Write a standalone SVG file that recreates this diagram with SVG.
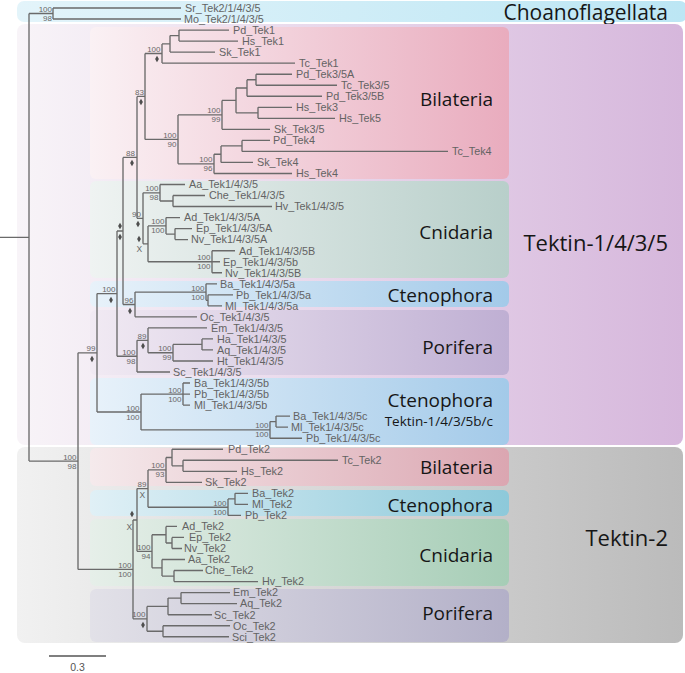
<svg xmlns="http://www.w3.org/2000/svg" xmlns:xlink="http://www.w3.org/1999/xlink" width="685" height="673" viewBox="0 0 685 673">
<style>
.lf{font-family:"Liberation Sans",Arial,sans-serif;font-size:10.8px;fill:#636363}
.bs{font-family:"Liberation Sans",Arial,sans-serif;font-size:8px;fill:#686868;text-anchor:end}
.bx{font-family:"Liberation Sans",Arial,sans-serif;font-size:8.5px;fill:#686868;text-anchor:middle}
.cl{font-family:"Open Sans","Noto Sans",sans-serif;font-size:19px;fill:#161616;text-anchor:end}
.big{font-family:"Open Sans","Noto Sans",sans-serif;font-size:22px;fill:#161616;text-anchor:end}
.br{fill:none;stroke:#6a6a6a;stroke-width:1.35}
.dm{fill:#4e4e4e}
</style>
<defs>
<linearGradient id="gCh" x1="0" x2="1" y1="0" y2="0"><stop offset="0" stop-color="#e3f4fa"/><stop offset="1" stop-color="#bce6f4"/></linearGradient>
<linearGradient id="gT1" x1="0" x2="1" y1="0" y2="0"><stop offset="0" stop-color="#f8f4f8"/><stop offset="1" stop-color="#d6b7dc"/></linearGradient>
<linearGradient id="gT2" x1="0" x2="1" y1="0" y2="0"><stop offset="0" stop-color="#f1f1f1"/><stop offset="1" stop-color="#bbbbbb"/></linearGradient>
<linearGradient id="gBi" x1="0" x2="1" y1="0" y2="0"><stop offset="0" stop-color="#faf1f4"/><stop offset="1" stop-color="#e9acbe"/></linearGradient>
<linearGradient id="gCn" x1="0" x2="1" y1="0" y2="0"><stop offset="0" stop-color="#eff3f2"/><stop offset="1" stop-color="#b8cfca"/></linearGradient>
<linearGradient id="gCt" x1="0" x2="1" y1="0" y2="0"><stop offset="0" stop-color="#e8f2fa"/><stop offset="1" stop-color="#a3cae9"/></linearGradient>
<linearGradient id="gPo" x1="0" x2="1" y1="0" y2="0"><stop offset="0" stop-color="#f1eaf3"/><stop offset="1" stop-color="#bfafd3"/></linearGradient>
<linearGradient id="gBi2" x1="0" x2="1" y1="0" y2="0"><stop offset="0" stop-color="#f5eaec"/><stop offset="1" stop-color="#dba6b1"/></linearGradient>
<linearGradient id="gCt2" x1="0" x2="1" y1="0" y2="0"><stop offset="0" stop-color="#e0f0f6"/><stop offset="1" stop-color="#8dc9da"/></linearGradient>
<linearGradient id="gCn2" x1="0" x2="1" y1="0" y2="0"><stop offset="0" stop-color="#e6efe9"/><stop offset="1" stop-color="#a6cdb6"/></linearGradient>
<linearGradient id="gPo2" x1="0" x2="1" y1="0" y2="0"><stop offset="0" stop-color="#e2e1e8"/><stop offset="1" stop-color="#b3b0c8"/></linearGradient>
<path id="dia" d="M0,-3.3 L1.9,0 L0,3.3 L-1.9,0 Z"/>
</defs>
<rect width="685" height="673" fill="#ffffff"/>

<g id="clade-choanoflagellata"><rect x="17" y="1" width="670" height="21" rx="7" fill="url(#gCh)"/><text class="big" x="668" y="19.5" style="font-size:21px">Choanoflagellata</text></g>
<g id="clade-tektin-1435"><rect x="17" y="24" width="666" height="421" rx="8" fill="url(#gT1)"/><text class="big" x="668" y="251">Tektin-1/4/3/5</text></g>
<g id="clade-tektin-2"><rect x="17" y="447" width="666" height="196" rx="8" fill="url(#gT2)"/><text class="big" x="668" y="546">Tektin-2</text></g>

<g id="box-t1-bilateria"><rect x="90" y="27" width="419" height="152" rx="6" fill="url(#gBi)"/><text class="cl" x="493" y="106">Bilateria</text></g>
<g id="box-t1-cnidaria"><rect x="90" y="181" width="419" height="97" rx="6" fill="url(#gCn)"/><text class="cl" x="493" y="239">Cnidaria</text></g>
<g id="box-t1-ctenophora-a"><rect x="90" y="281" width="419" height="26" rx="6" fill="url(#gCt)"/><text class="cl" x="493" y="302">Ctenophora</text></g>
<g id="box-t1-porifera"><rect x="90" y="310" width="419" height="65" rx="6" fill="url(#gPo)"/><text class="cl" x="493" y="354">Porifera</text></g>
<g id="box-t1-ctenophora-bc"><rect x="90" y="378" width="419" height="67" rx="6" fill="url(#gCt)"/><text class="cl" x="493" y="406.5">Ctenophora</text><text class="cl" x="493" y="426" style="font-size:13.5px">Tektin-1/4/3/5b/c</text></g>
<g id="box-t2-bilateria"><rect x="90" y="448" width="419" height="38" rx="6" fill="url(#gBi2)"/><text class="cl" x="493" y="474">Bilateria</text></g>
<g id="box-t2-ctenophora"><rect x="90" y="490" width="419" height="26" rx="6" fill="url(#gCt2)"/><text class="cl" x="493" y="512">Ctenophora</text></g>
<g id="box-t2-cnidaria"><rect x="90" y="519" width="419" height="67" rx="6" fill="url(#gCn2)"/><text class="cl" x="493" y="562">Cnidaria</text></g>
<g id="box-t2-porifera"><rect x="90" y="589" width="419" height="53" rx="6" fill="url(#gPo2)"/><text class="cl" x="493" y="620">Porifera</text></g>

<g id="connectors" class="br">
<path d="M0,237.3 H29 M29,13.5 V461.1 M29,13.5 H53 M29,461.1 H78"/>
<path d="M53,8 V19 M53,8 H181 M53,19 H181"/>
<path d="M78,352.8 V569.4 M78,352.8 H97 M78,569.4 H133"/>
<path d="M97,293.6 V412 M97,293.6 H117 M97,412 H141"/>
<path d="M117,231 V356.2 M117,231 H123 M117,356.2 H137"/>
<path d="M123,157.4 V304.5 M123,157.4 H137 M123,304.5 H135"/>
<path d="M137,96.4 V218.3 M137,96.4 H145 M137,218.3 H143"/>
<path d="M145,53.5 V139.4 M145,53.5 H162 M145,139.4 H178"/>
<path d="M162,43.9 V63.1 M162,43.9 H170 M162,63.1 H295"/>
<path d="M170,35.6 V52.1 M170,35.6 H179 M170,52.1 H215"/>
<path d="M179,30.1 V41.1 M179,30.1 H229 M179,41.1 H238"/>
<path d="M178,114.9 V163.8 M178,114.9 H222 M178,163.8 H214"/>
<path d="M222,100.4 V129.3 M222,100.4 H236 M222,129.3 H270"/>
<path d="M236,88 V112.8 M236,88 H247 M236,112.8 H258"/>
<path d="M247,79.7 V96.2 M247,79.7 H256 M247,96.2 H322"/>
<path d="M256,74.2 V85.2 M256,74.2 H292 M256,85.2 H337"/>
<path d="M258,107.3 V118.3 M258,107.3 H292 M258,118.3 H335"/>
<path d="M214,154.2 V173.5 M214,154.2 H221 M214,173.5 H292"/>
<path d="M221,145.9 V162.4 M221,145.9 H242 M221,162.4 H253"/>
<path d="M242,140.4 V151.4 M242,140.4 H270 M242,151.4 H448"/>
<path d="M143,192.8 V243.8 M143,192.8 H160 M143,243.8 H148"/>
<path d="M160,184.5 V201 M160,184.5 H185 M160,201 H173"/>
<path d="M173,195.5 V206.5 M173,195.5 H205 M173,206.5 H272"/>
<path d="M148,225.9 V261.7 M148,225.9 H166 M148,261.7 H212"/>
<path d="M166,217.6 V234.1 M166,217.6 H180 M166,234.1 H175"/>
<path d="M175,228.6 V239.6 M175,228.6 H192 M175,239.6 H188"/>
<path d="M212,250.7 V272.7 M212,250.7 H235 M212,261.7 H220 M212,272.7 H222"/>
<path d="M135,292.1 V316.8 M135,292.1 H206 M135,316.8 H197"/>
<path d="M206,283.8 V300.3 M206,283.8 H217 M206,300.3 H208"/>
<path d="M208,294.8 V305.8 M208,294.8 H233 M208,305.8 H222"/>
<path d="M137,340.3 V372 M137,340.3 H148 M137,372 H170"/>
<path d="M148,327.9 V352.7 M148,327.9 H207 M148,352.7 H173"/>
<path d="M173,344.4 V361 M173,344.4 H202 M173,361 H213"/>
<path d="M202,338.9 V349.9 M202,338.9 H213 M202,349.9 H213"/>
<path d="M141,394.1 V429.9 M141,394.1 H183 M141,429.9 H270"/>
<path d="M183,383 V405.1 M183,383 H190 M183,394.1 H190 M183,405.1 H190"/>
<path d="M270,421.6 V438.2 M270,421.6 H276 M270,438.2 H302"/>
<path d="M276,416.1 V427.1 M276,416.1 H290 M276,427.1 H288"/>
<path d="M133,520 V618.8 M133,520 H137 M133,618.8 H147"/>
<path d="M137,488.6 V551.3 M137,488.6 H148 M137,551.3 H152"/>
<path d="M148,469.9 V507.2 M148,469.9 H166 M148,507.2 H228"/>
<path d="M166,457.5 V482.3 M166,457.5 H172 M166,482.3 H202"/>
<path d="M172,449.2 V465.8 M172,449.2 H223 M172,465.8 H183"/>
<path d="M183,460.2 V471.3 M183,460.2 H338 M183,471.3 H237"/>
<path d="M228,498.9 V515.4 M228,498.9 H235 M228,515.4 H241"/>
<path d="M235,493.3 V504.4 M235,493.3 H248 M235,504.4 H248"/>
<path d="M152,534.7 V567.8 M152,534.7 H166 M152,567.8 H162"/>
<path d="M166,526.4 V543 M166,526.4 H177 M166,543 H172"/>
<path d="M172,537.4 V548.5 M172,537.4 H184 M172,548.5 H182"/>
<path d="M162,559.5 V576.1 M162,559.5 H185 M162,576.1 H174"/>
<path d="M174,570.5 V581.6 M174,570.5 H203 M174,581.6 H258"/>
<path d="M147,606.4 V631.2 M147,606.4 H168 M147,631.2 H163"/>
<path d="M168,598.1 V614.7 M168,598.1 H181 M168,614.7 H212"/>
<path d="M181,592.6 V603.6 M181,592.6 H230 M181,603.6 H237"/>
<path d="M163,625.7 V636.7 M163,625.7 H230 M163,636.7 H229"/>
</g>

<g id="leaves" class="lf">
<g id="leaf-sr-tek2"><text x="185" y="11.8">Sr_Tek2/1/4/3/5</text></g>
<g id="leaf-mo-tek2"><text x="184" y="22.8">Mo_Tek2/1/4/3/5</text></g>
<g id="leaf-pd-tek1"><text x="233" y="33.9">Pd_Tek1</text></g>
<g id="leaf-hs-tek1"><text x="242" y="44.9">Hs_Tek1</text></g>
<g id="leaf-sk-tek1"><text x="219" y="55.9">Sk_Tek1</text></g>
<g id="leaf-tc-tek1"><text x="299" y="66.9">Tc_Tek1</text></g>
<g id="leaf-pd-tek35a"><text x="296" y="78">Pd_Tek3/5A</text></g>
<g id="leaf-tc-tek35"><text x="341" y="89">Tc_Tek3/5</text></g>
<g id="leaf-pd-tek35b"><text x="326" y="100">Pd_Tek3/5B</text></g>
<g id="leaf-hs-tek3"><text x="296" y="111.1">Hs_Tek3</text></g>
<g id="leaf-hs-tek5"><text x="339" y="122.1">Hs_Tek5</text></g>
<g id="leaf-sk-tek35"><text x="274" y="133.1">Sk_Tek3/5</text></g>
<g id="leaf-pd-tek4"><text x="273" y="144.2">Pd_Tek4</text></g>
<g id="leaf-tc-tek4"><text x="452" y="155.2">Tc_Tek4</text></g>
<g id="leaf-sk-tek4"><text x="257" y="166.2">Sk_Tek4</text></g>
<g id="leaf-hs-tek4"><text x="296" y="177.3">Hs_Tek4</text></g>
<g id="leaf-aa-tek1"><text x="189" y="188.3">Aa_Tek1/4/3/5</text></g>
<g id="leaf-che-tek1"><text x="209" y="199.3">Che_Tek1/4/3/5</text></g>
<g id="leaf-hv-tek1"><text x="275" y="210.3">Hv_Tek1/4/3/5</text></g>
<g id="leaf-ad-tek1a"><text x="184" y="221.4">Ad_Tek1/4/3/5A</text></g>
<g id="leaf-ep-tek1a"><text x="196" y="232.4">Ep_Tek1/4/3/5A</text></g>
<g id="leaf-nv-tek1a"><text x="191" y="243.4">Nv_Tek1/4/3/5A</text></g>
<g id="leaf-ad-tek1b"><text x="239" y="254.5">Ad_Tek1/4/3/5B</text></g>
<g id="leaf-ep-tek1b"><text x="223" y="265.5">Ep_Tek1/4/3/5b</text></g>
<g id="leaf-nv-tek1b"><text x="225" y="276.5">Nv_Tek1/4/3/5B</text></g>
<g id="leaf-ba-tek1a"><text x="220" y="287.6">Ba_Tek1/4/3/5a</text></g>
<g id="leaf-pb-tek1a"><text x="236" y="298.6">Pb_Tek1/4/3/5a</text></g>
<g id="leaf-ml-tek1a"><text x="225" y="309.6">Ml_Tek1/4/3/5a</text></g>
<g id="leaf-oc-tek1"><text x="200" y="320.6">Oc_Tek1/4/3/5</text></g>
<g id="leaf-em-tek1"><text x="211" y="331.7">Em_Tek1/4/3/5</text></g>
<g id="leaf-ha-tek1"><text x="217" y="342.7">Ha_Tek1/4/3/5</text></g>
<g id="leaf-aq-tek1"><text x="217" y="353.7">Aq_Tek1/4/3/5</text></g>
<g id="leaf-ht-tek1"><text x="217" y="364.8">Ht_Tek1/4/3/5</text></g>
<g id="leaf-sc-tek1"><text x="173" y="375.8">Sc_Tek1/4/3/5</text></g>
<g id="leaf-ba-tek1b"><text x="194" y="386.8">Ba_Tek1/4/3/5b</text></g>
<g id="leaf-pb-tek1b"><text x="194" y="397.9">Pb_Tek1/4/3/5b</text></g>
<g id="leaf-ml-tek1b"><text x="194" y="408.9">Ml_Tek1/4/3/5b</text></g>
<g id="leaf-ba-tek1c"><text x="293" y="419.9">Ba_Tek1/4/3/5c</text></g>
<g id="leaf-ml-tek1c"><text x="291" y="430.9">Ml_Tek1/4/3/5c</text></g>
<g id="leaf-pb-tek1c"><text x="306" y="442">Pb_Tek1/4/3/5c</text></g>
<g id="leaf-pd-tek2"><text x="228" y="453">Pd_Tek2</text></g>
<g id="leaf-tc-tek2"><text x="342" y="464">Tc_Tek2</text></g>
<g id="leaf-hs-tek2"><text x="241" y="475.1">Hs_Tek2</text></g>
<g id="leaf-sk-tek2"><text x="205" y="486.1">Sk_Tek2</text></g>
<g id="leaf-ba-tek2"><text x="252" y="497.1">Ba_Tek2</text></g>
<g id="leaf-ml-tek2"><text x="252" y="508.2">Ml_Tek2</text></g>
<g id="leaf-pb-tek2"><text x="245" y="519.2">Pb_Tek2</text></g>
<g id="leaf-ad-tek2"><text x="182" y="530.2">Ad_Tek2</text></g>
<g id="leaf-ep-tek2"><text x="189" y="541.2">Ep_Tek2</text></g>
<g id="leaf-nv-tek2"><text x="184" y="552.3">Nv_Tek2</text></g>
<g id="leaf-aa-tek2"><text x="188" y="563.3">Aa_Tek2</text></g>
<g id="leaf-che-tek2"><text x="205" y="574.3">Che_Tek2</text></g>
<g id="leaf-hv-tek2"><text x="262" y="585.4">Hv_Tek2</text></g>
<g id="leaf-em-tek2"><text x="233" y="596.4">Em_Tek2</text></g>
<g id="leaf-aq-tek2"><text x="240" y="607.4">Aq_Tek2</text></g>
<g id="leaf-sc-tek2"><text x="214" y="618.5">Sc_Tek2</text></g>
<g id="leaf-oc-tek2"><text x="233" y="629.5">Oc_Tek2</text></g>
<g id="leaf-sci-tek2"><text x="232" y="640.5">Sci_Tek2</text></g>
</g>

<g id="support-values">
<text class="bs" x="52" y="12">100</text><text class="bs" x="52" y="20.5">98</text>
<text class="bs" x="160.5" y="52">100</text><use href="#dia" class="dm" x="157" y="59"/>
<text class="bs" x="144" y="95">83</text><use href="#dia" class="dm" x="141" y="102"/>
<text class="bs" x="176.5" y="138">100</text><text class="bs" x="176.5" y="147">90</text>
<text class="bs" x="220.5" y="113.4">100</text><text class="bs" x="220.5" y="122.4">99</text>
<text class="bs" x="212.5" y="162.3">100</text><text class="bs" x="212.5" y="171.3">96</text>
<text class="bs" x="135" y="156">88</text><use href="#dia" class="dm" x="132" y="163"/>
<text class="bs" x="141" y="216.8">90</text><use href="#dia" class="dm" x="138" y="224"/>
<text class="bs" x="158.5" y="191.3">100</text><text class="bs" x="158.5" y="200.3">98</text>
<use href="#dia" class="dm" x="139" y="239"/><text class="bx" x="139.3" y="251.5">X</text>
<text class="bs" x="164.5" y="224.4">100</text><text class="bs" x="164.5" y="233.4">100</text>
<text class="bs" x="210.5" y="260.2">100</text><text class="bs" x="210.5" y="269.2">100</text>
<use href="#dia" class="dm" x="120" y="226"/><use href="#dia" class="dm" x="120" y="237"/>
<text class="bs" x="133.5" y="303">96</text><use href="#dia" class="dm" x="130" y="311"/>
<text class="bs" x="204.5" y="290.6">100</text><text class="bs" x="204.5" y="299.6">100</text>
<text class="bs" x="135.5" y="354.7">100</text><text class="bs" x="135.5" y="363.7">98</text>
<text class="bs" x="146.5" y="338.8">89</text><use href="#dia" class="dm" x="143" y="346"/>
<text class="bs" x="171.5" y="351.2">100</text><text class="bs" x="171.5" y="360.2">99</text>
<text class="bs" x="115.5" y="292.1">100</text><use href="#dia" class="dm" x="111" y="300"/>
<text class="bs" x="181.5" y="392.6">100</text><text class="bs" x="181.5" y="401.6">100</text>
<text class="bs" x="268.5" y="428.4">100</text><text class="bs" x="268.5" y="437.4">100</text>
<text class="bs" x="139.5" y="410.5">100</text><text class="bs" x="139.5" y="419.5">100</text>
<text class="bs" x="95.5" y="351.3">99</text><use href="#dia" class="dm" x="92" y="359"/>
<text class="bs" x="76.5" y="459.6">100</text><text class="bs" x="76.5" y="468.6">98</text>
<text class="bs" x="164.5" y="468.4">100</text><text class="bs" x="164.5" y="477.4">93</text>
<text class="bs" x="146.5" y="487.1">89</text><text class="bx" x="142.3" y="497.5">X</text>
<text class="bs" x="226.5" y="505.7">100</text><text class="bs" x="226.5" y="514.7">100</text>
<use href="#dia" class="dm" x="132" y="514"/><text class="bx" x="129.3" y="529.5">X</text>
<text class="bs" x="150.5" y="549.8">100</text><text class="bs" x="150.5" y="558.8">94</text>
<text class="bs" x="131.5" y="567.9">100</text><text class="bs" x="131.5" y="576.9">100</text>
<text class="bs" x="145.5" y="617.3">100</text><use href="#dia" class="dm" x="143" y="625"/>
</g>

<g id="scale-bar">
<path d="M49,656 H106" fill="none" stroke="#555" stroke-width="1.3"/>
<text x="77.5" y="671" style="font-family:'Liberation Sans',Arial,sans-serif;font-size:10.5px;fill:#555;text-anchor:middle">0.3</text>
</g>
</svg>
